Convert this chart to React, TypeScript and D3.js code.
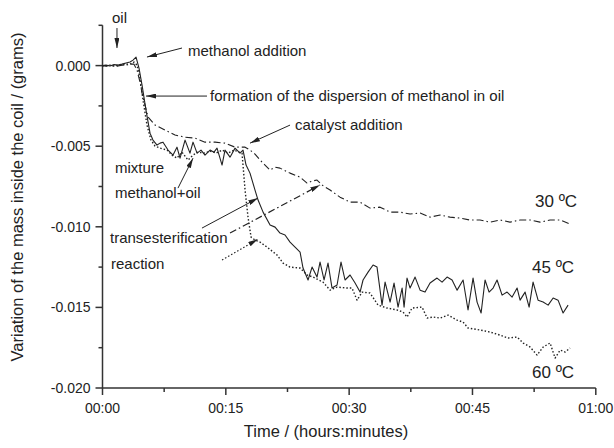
import React from "react";
import { scaleLinear, line } from "d3";

// time in minutes, mass variation in grams
const series30: [number, number][] = [
  [0, 0], [0.43, -0.00003], [0.91, 0.00003], [1.4, -0.00003], [1.89, -0.00003],
  [2.37, 0.00003], [2.86, 0.00003], [3.35, 0.00009], [3.83, 0.00009], [4.2, -0.00028],
  [4.56, -0.00102], [4.81, -0.00171], [5.54, -0.00319], [6.39, -0.00369], [7.6, -0.004],
  [8.82, -0.00431], [10.04, -0.00444], [11.25, -0.0045], [12.47, -0.00475], [13.69, -0.00475],
  [14.9, -0.00481], [16.12, -0.00506], [17.34, -0.00506], [17.94, -0.00524], [18.55, -0.00549],
  [19.16, -0.00586], [19.77, -0.00617], [20.38, -0.00648], [20.99, -0.0063], [21.59, -0.00636],
  [22.81, -0.00667], [24.03, -0.00692], [24.88, -0.00729], [25.49, -0.00716], [26.09, -0.0071],
  [26.7, -0.00741], [27.68, -0.00772], [28.89, -0.00816], [30.11, -0.00847], [31.33, -0.00847],
  [32.54, -0.00884], [33.76, -0.00878], [34.98, -0.00909], [36.19, -0.00909], [37.41, -0.00921],
  [38.63, -0.00915], [39.84, -0.0094], [41.06, -0.00927], [42.27, -0.0094], [43.49, -0.00946],
  [44.71, -0.00958], [45.92, -0.00958], [47.14, -0.00971], [48.36, -0.00958], [49.57, -0.00971],
  [50.79, -0.00958], [52.01, -0.00958], [53.22, -0.00971], [54.44, -0.00958], [55.66, -0.00958],
  [56.87, -0.00983],
];

const series45: [number, number][] = [
  [0, 0], [0.43, 0.00003], [0.91, -0.00003], [1.4, 0.00006], [1.89, 0.00003],
  [2.37, 0.00009], [2.86, 0.00016], [3.35, 0.00022], [3.71, 0.00034], [4.08, 0.00053],
  [4.44, -0.00016], [4.81, -0.00121], [5.29, -0.00276], [5.78, -0.00419], [6.14, -0.00462],
  [6.63, -0.00493], [7.0, -0.00481], [7.36, -0.00475], [7.97, -0.00524], [8.58, -0.00555],
  [9.06, -0.00506], [9.43, -0.00574], [10.04, -0.00462], [10.64, -0.00543], [11.01, -0.00475],
  [11.5, -0.00543], [11.98, -0.00524], [12.47, -0.00555], [13.08, -0.00524], [13.56, -0.00537],
  [13.93, -0.00512], [14.54, -0.00617], [14.9, -0.00524], [15.51, -0.00568], [16.12, -0.00512],
  [16.73, -0.00543], [17.09, -0.00524], [17.46, -0.00617], [17.94, -0.00667], [18.55, -0.00772],
  [18.92, -0.00834], [19.53, -0.00909], [20.38, -0.00989], [20.99, -0.01002], [21.59, -0.01039],
  [22.2, -0.01051], [22.81, -0.01095], [23.42, -0.01126], [24.03, -0.01157], [24.39, -0.01256],
  [25.0, -0.0133], [25.49, -0.0125], [26.09, -0.01312], [26.46, -0.01219], [26.95, -0.0133],
  [27.43, -0.01225], [27.92, -0.0138], [28.53, -0.01361], [29.01, -0.01219], [29.5, -0.0133],
  [30.11, -0.01299], [30.72, -0.01349], [31.33, -0.01405], [31.69, -0.0133], [32.3, -0.01281],
  [32.91, -0.01237], [33.39, -0.0125], [34.0, -0.01486], [34.37, -0.01343], [34.98, -0.01467],
  [35.46, -0.01349], [35.95, -0.01498], [36.44, -0.0138], [36.68, -0.01498], [37.04, -0.01318],
  [37.41, -0.0138], [38.02, -0.01312], [38.63, -0.01393], [39.23, -0.01405], [39.84, -0.01349],
  [40.69, -0.01318], [41.3, -0.01343], [41.91, -0.01312], [42.52, -0.0133], [43.13, -0.01393],
  [43.86, -0.0133], [44.46, -0.01516], [45.07, -0.01318], [45.56, -0.01467], [46.05, -0.01535],
  [46.53, -0.0133], [47.02, -0.01405], [47.51, -0.0138], [47.99, -0.0133], [48.6, -0.01424],
  [49.21, -0.01405], [49.82, -0.01436], [50.43, -0.0138], [50.79, -0.01455], [51.4, -0.01405],
  [51.89, -0.01498], [52.37, -0.01343], [52.98, -0.01455], [53.59, -0.01467], [54.2, -0.01486],
  [54.81, -0.01442], [55.41, -0.01455], [56.02, -0.01535], [56.63, -0.01486],
];

const series60: [number, number][] = [
  [0, 0], [0.43, -0.00003], [0.91, 0.00003], [1.4, -0.00003], [1.89, 0.00003],
  [2.37, 0.00003], [2.86, 0.00009], [3.35, 0.00009], [3.83, 0.00022], [4.2, 0.00003],
  [4.56, -0.00078], [4.93, -0.00214], [5.41, -0.00369], [5.9, -0.00462], [6.39, -0.00499],
  [7.0, -0.00512], [7.85, -0.00524], [8.45, -0.00555], [9.06, -0.00574], [9.67, -0.00537],
  [10.4, -0.00586], [11.01, -0.00555], [11.62, -0.00537], [12.47, -0.00543], [13.08, -0.0053],
  [13.81, -0.00543], [14.54, -0.00524], [15.27, -0.00543], [16.0, -0.00524], [16.61, -0.00537],
  [16.97, -0.00543], [17.34, -0.00772], [17.7, -0.0094], [18.07, -0.01064], [18.55, -0.01082],
  [19.16, -0.01095], [20.01, -0.01126], [21.23, -0.01175], [21.96, -0.01225], [22.81, -0.0125],
  [24.03, -0.01256], [24.88, -0.01299], [25.61, -0.01312], [26.82, -0.01343], [27.68, -0.01393],
  [28.53, -0.01374], [29.74, -0.0138], [30.35, -0.0138], [30.96, -0.01455], [31.57, -0.01405],
  [32.54, -0.01411], [33.52, -0.01486], [34.61, -0.01504], [35.83, -0.01516], [36.56, -0.01529],
  [37.04, -0.0156], [37.65, -0.01504], [38.87, -0.01498], [39.48, -0.01566], [40.21, -0.0156],
  [41.06, -0.01566], [42.03, -0.01548], [43.13, -0.01579], [43.86, -0.01591], [44.46, -0.01628],
  [45.92, -0.0164], [47.14, -0.01653], [48.36, -0.01672], [49.33, -0.0169], [50.43, -0.01684],
  [51.16, -0.01721], [52.01, -0.01746], [52.86, -0.01796], [53.59, -0.01746], [54.44, -0.01721],
  [55.05, -0.01814], [55.66, -0.01765], [56.27, -0.01777], [56.87, -0.01752],
];

const xTicks = [0, 15, 30, 45, 60];
const xTickLabels = ["00:00", "00:15", "00:30", "00:45", "01:00"];
const xMinorTicks = [7.5, 22.5, 37.5, 52.5];
const yTicks = [-0.02, -0.015, -0.01, -0.005, 0];
const yTickLabels = ["-0.020", "-0.015", "-0.010", "-0.005", "0.000"];
const yMinorTicks = [-0.0175, -0.0125, -0.0075, -0.0025, 0.0025];

const font = "'Liberation Sans', Arial, sans-serif";
const ink = "#222";

export default function App() {
  const x = scaleLinear().domain([0, 60]).range([102.5, 595.8]);
  const y = scaleLinear().domain([-0.02, 0.0025]).range([388, 25.3]);
  const path = line<[number, number]>()
    .x((d) => x(d[0]))
    .y((d) => y(d[1]));

  // annotation arrows, [from, to] in data units
  const arrows: { a: [number, number]; b: [number, number]; dash?: string }[] = [
    { a: [1.76, 0.00233], b: [1.76, 0.00109] },
    { a: [9.67, 0.00109], b: [5.41, 0.00053] },
    { a: [12.71, -0.00189], b: [5.29, -0.00189] },
    { a: [22.81, -0.00369], b: [17.94, -0.00481] },
    { a: [9.18, -0.0076], b: [11.01, -0.00574] },
    { a: [12.1, -0.01008], b: [18.92, -0.00822] },
    { a: [15.51, -0.01039], b: [26.46, -0.00741], dash: "7,3,1.5,3" },
    { a: [14.54, -0.01206], b: [18.92, -0.01076], dash: "1.5,2" },
  ];

  return (
    <div style={{ position: "absolute", left: 0, top: 0 }}>
      <svg width={614} height={448} style={{ display: "block", background: "#fff" }}>
        <defs>
          <marker
            id="ah"
            viewBox="0 0 10 5"
            refX={10}
            refY={2.5}
            markerWidth={10}
            markerHeight={5}
            markerUnits="userSpaceOnUse"
            orient="auto"
          >
            <path d="M0,0 L10,2.5 L0,5 z" fill={ink} />
          </marker>
        </defs>

        {/* axes */}
        <g stroke="#333" strokeWidth={1.5}>
          <line x1={x(0)} x2={x(0)} y1={y(0.0025)} y2={y(-0.02)} />
          <line x1={x(0)} x2={x(60)} y1={y(-0.02)} y2={y(-0.02)} />
          {yTicks.map((t) => (
            <line key={"y" + t} x1={x(0) - 7} x2={x(0)} y1={y(t)} y2={y(t)} />
          ))}
          {yMinorTicks.map((t) => (
            <line key={"ym" + t} x1={x(0) - 4} x2={x(0)} y1={y(t)} y2={y(t)} />
          ))}
          {xTicks.map((t) => (
            <line key={"x" + t} x1={x(t)} x2={x(t)} y1={y(-0.02)} y2={y(-0.02) + 7} />
          ))}
          {xMinorTicks.map((t) => (
            <line key={"xm" + t} x1={x(t)} x2={x(t)} y1={y(-0.02)} y2={y(-0.02) + 4} />
          ))}
        </g>
        <g fontFamily={font} fontSize={14} fill={ink}>
          {yTicks.map((t, i) => (
            <text key={t} x={x(0) - 12} y={y(t)} dy="0.35em" textAnchor="end">
              {yTickLabels[i]}
            </text>
          ))}
          {xTicks.map((t, i) => (
            <text key={t} x={x(t)} y={413} textAnchor="middle">
              {xTickLabels[i]}
            </text>
          ))}
        </g>
        <g fontFamily={font} fontSize={16.5} fill={ink}>
          <text x={326} y={437} textAnchor="middle">
            Time / (hours:minutes)
          </text>
          <text transform="translate(23,197) rotate(-90)" textAnchor="middle">
            Variation of the mass inside the coil / (grams)
          </text>
        </g>

        {/* series */}
        <g fill="none" stroke={ink} strokeWidth={1.1} strokeLinejoin="round">
          <path d={path(series30) ?? ""} strokeDasharray="7,3,1.5,3" />
          <path d={path(series45) ?? ""} />
          <path d={path(series60) ?? ""} strokeDasharray="1.5,2" strokeWidth={1.4} />
        </g>

        {/* annotations */}
        <g stroke={ink} strokeWidth={1} fill="none">
          {arrows.map((r, i) => (
            <line
              key={i}
              x1={x(r.a[0])}
              y1={y(r.a[1])}
              x2={x(r.b[0])}
              y2={y(r.b[1])}
              strokeDasharray={r.dash}
              strokeWidth={r.dash ? 1.2 : 1}
              markerEnd="url(#ah)"
            />
          ))}
        </g>
        <g fontFamily={font} fontSize={15} fill={ink}>
          <text x={112} y={23}>oil</text>
          <text x={188} y={56}>methanol addition</text>
          <text x={210} y={101}>formation of the dispersion of methanol in oil</text>
          <text x={295} y={130}>catalyst addition</text>
          <text x={115} y={173}>mixture</text>
          <text x={115} y={198}>methanol+oil</text>
          <text x={110} y={243}>transesterification</text>
          <text x={111} y={269}>reaction</text>
        </g>
        <g fontFamily={font} fontSize={17} fill={ink}>
          <text x={535} y={207}>30 ºC</text>
          <text x={532} y={273}>45 ºC</text>
          <text x={532} y={378}>60 ºC</text>
        </g>
      </svg>
    </div>
  );
}
